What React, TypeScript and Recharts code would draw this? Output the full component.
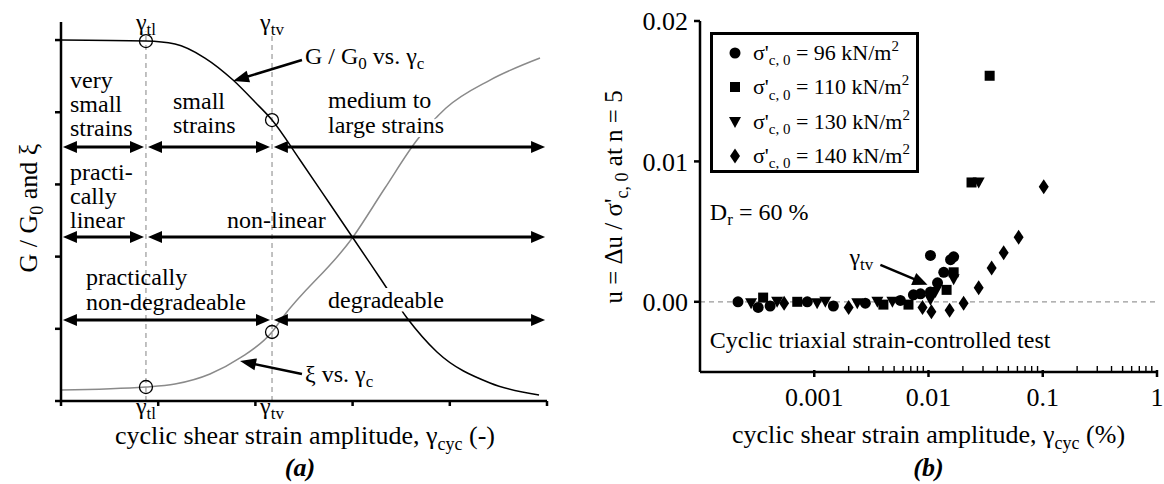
import React from "react";
import {
  ComposedChart,
  ScatterChart,
  Line,
  Scatter,
  XAxis,
  YAxis,
  ReferenceLine,
  ReferenceDot,
  Legend,
} from "recharts";

const SERIF = '"Liberation Serif", "Times New Roman", Times, serif';

// ---------- (a) schematic: one axis unit per tick ----------
const strainTicksA = [0, 1, 2, 3, 4, 5];
const levelTicksA = [0, 1, 2, 3, 4, 5];
const gammaTl = 0.874;
const gammaTv = 2.171;

const modulusCurve = [
  { x: 0, y: 5.0 },
  { x: 0.874, y: 4.986 },
  { x: 1.173, y: 4.945 },
  { x: 1.481, y: 4.751 },
  { x: 1.77, y: 4.446 },
  { x: 1.996, y: 4.141 },
  { x: 2.171, y: 3.892 },
  { x: 2.459, y: 3.338 },
  { x: 2.767, y: 2.729 },
  { x: 3.004, y: 2.258 },
  { x: 3.282, y: 1.704 },
  { x: 3.56, y: 1.15 },
  { x: 3.868, y: 0.679 },
  { x: 4.414, y: 0.249 },
  { x: 4.918, y: 0.083 },
];

const dampingCurve = [
  { x: 0, y: 0.152 },
  { x: 0.874, y: 0.194 },
  { x: 1.173, y: 0.235 },
  { x: 1.533, y: 0.374 },
  { x: 1.842, y: 0.596 },
  { x: 2.171, y: 0.956 },
  { x: 2.284, y: 1.163 },
  { x: 3.004, y: 2.271 },
  { x: 3.333, y: 2.95 },
  { x: 3.663, y: 3.615 },
  { x: 3.961, y: 4.058 },
  { x: 4.414, y: 4.446 },
  { x: 4.928, y: 4.751 },
];

// ---------- (b) pore pressure ratio vs. strain (%) ----------
const decadesB = [0.001, 0.01, 0.1, 1];
const minorStepsB = [2, 3, 4, 5, 6, 7, 8, 9];
const ticksUB = [0, 0.01, 0.02];
const stressLabels = ["96", "110", "130", "140"];

const pts96 = [
  { x: 0.000215, y: 0 },
  { x: 0.000323, y: -0.0004 },
  { x: 0.000411, y: -0.0003 },
  { x: 0.000869, y: 0 },
  { x: 0.00147, y: -0.0003 },
  { x: 0.0028, y: -0.0001 },
  { x: 0.00567, y: 0.0001 },
  { x: 0.00738, y: 0.0005 },
  { x: 0.00851, y: 0.00057 },
  { x: 0.0104, y: 0.0033 },
  { x: 0.0156, y: 0.003 },
  { x: 0.0166, y: 0.0032 },
  { x: 0.0136, y: 0.0021 },
  { x: 0.012, y: 0.00135 },
  { x: 0.0104, y: 0.0007 },
];

const pts110 = [
  { x: 0.000357, y: 0.0003 },
  { x: 0.00071, y: 0 },
  { x: 0.00403, y: -0.0002 },
  { x: 0.00668, y: -0.0002 },
  { x: 0.0166, y: 0.0021 },
  { x: 0.0144, y: 0.00085 },
  { x: 0.0238, y: 0.0085 },
  { x: 0.0343, y: 0.0161 },
];

const pts130 = [
  { x: 0.00028, y: -0.0001 },
  { x: 0.000473, y: 0 },
  { x: 0.00106, y: -0.0001 },
  { x: 0.00125, y: 0 },
  { x: 0.00238, y: -0.0001 },
  { x: 0.00357, y: 0 },
  { x: 0.00483, y: 0 },
  { x: 0.0166, y: 0.0016 },
  { x: 0.0115, y: 0.0007 },
  { x: 0.0104, y: 0.00014 },
  { x: 0.0275, y: 0.0085 },
];

const pts140 = [
  { x: 0.000545, y: -0.0001 },
  { x: 0.002, y: -0.0004 },
  { x: 0.00886, y: -0.0004 },
  { x: 0.0106, y: -0.0007 },
  { x: 0.0153, y: -0.0006 },
  { x: 0.0203, y: -0.0001 },
  { x: 0.0275, y: 0.001 },
  { x: 0.0357, y: 0.0024 },
  { x: 0.0455, y: 0.0035 },
  { x: 0.0615, y: 0.0046 },
  { x: 0.102, y: 0.0082 },
];

const ticksXB = decadesB.flatMap((d) => [d, ...(d < 1 ? minorStepsB.map((m) => d * m) : [])]);

// ---------- marks ----------
const circleMark = (p: any) => <circle cx={p.cx} cy={p.cy} r={5.5} fill="#000" />;
const squareMark = (p: any) => <rect x={p.cx - 5} y={p.cy - 5} width={10} height={10} fill="#000" />;
const triDownMark = (p: any) => (
  <path d={`M${p.cx - 6},${p.cy - 5}L${p.cx + 6},${p.cy - 5}L${p.cx},${p.cy + 6}Z`} fill="#000" />
);
const diamondMark = (p: any) => (
  <path d={`M${p.cx},${p.cy - 7.5}L${p.cx + 5},${p.cy}L${p.cx},${p.cy + 7.5}L${p.cx - 5},${p.cy}Z`} fill="#000" />
);
const markFns = [circleMark, squareMark, triDownMark, diamondMark];

// straight arrow, one or two filled heads
const arrowShape = (both: boolean, w: number, len: number, half: number) => (p: any) => {
  const { x1, y1, x2, y2 } = p;
  const L = Math.hypot(x2 - x1, y2 - y1) || 1;
  const ux = (x2 - x1) / L;
  const uy = (y2 - y1) / L;
  const nx = -uy;
  const ny = ux;
  const head = (tx: number, ty: number, dx: number, dy: number) =>
    `M${tx},${ty}L${tx - dx * len + nx * half},${ty - dy * len + ny * half}L${tx - dx * len - nx * half},${ty - dy * len - ny * half}Z`;
  return (
    <g>
      <line
        x1={both ? x1 + ux * len * 0.7 : x1}
        y1={both ? y1 + uy * len * 0.7 : y1}
        x2={x2 - ux * len * 0.7}
        y2={y2 - uy * len * 0.7}
        stroke="#000"
        strokeWidth={w}
      />
      <path d={head(x2, y2, ux, uy)} fill="#000" />
      {both && <path d={head(x1, y1, -ux, -uy)} fill="#000" />}
    </g>
  );
};

const arrow = (key: string, a: [number, number], b: [number, number], both = true, w = 3, len = 14, half = 6) => (
  <ReferenceLine
    key={key}
    segment={[{ x: a[0], y: a[1] }, { x: b[0], y: b[1] }]}
    ifOverflow="visible"
    shape={arrowShape(both, w, len, half)}
  />
);

type NoteOpts = { anchor?: string; size?: number; rotate?: boolean; halo?: boolean; weight?: string; italic?: boolean };

const note = (key: string, x: number, y: number, body: (cx: number) => React.ReactNode, o: NoteOpts = {}) => (
  <ReferenceDot
    key={key}
    x={x}
    y={y}
    r={0}
    ifOverflow="visible"
    shape={(p: any) => (
      <text
        x={p.cx}
        y={p.cy}
        textAnchor={o.anchor ?? "start"}
        fontSize={o.size ?? 24}
        fontFamily={SERIF}
        fontWeight={o.weight ?? "normal"}
        fontStyle={o.italic ? "italic" : "normal"}
        fill="#000"
        stroke={o.halo ? "#fff" : undefined}
        strokeWidth={o.halo ? 8 : undefined}
        paintOrder={o.halo ? "stroke" : undefined}
        transform={o.rotate ? `rotate(-90 ${p.cx} ${p.cy})` : undefined}
      >
        {body(p.cx)}
      </text>
    )}
  />
);

const stack = (words: string[], gap: number) => (cx: number) =>
  words.map((w, i) => (
    <tspan key={i} x={cx} dy={i === 0 ? 0 : gap}>
      {w}
    </tspan>
  ));

const plain = (s: string) => () => s;

const gammaSub = (sub: string) => () => (
  <>
    γ<tspan dy={5} fontSize={17}>{sub}</tspan>
  </>
);

const yAt = (curve: { x: number; y: number }[], x: number) => curve.find((p) => p.x === x)!.y;

const axisStyle = { stroke: "#000", strokeWidth: 2.5 };

function PanelA() {
  return (
    <ComposedChart width={560} height={484} margin={{ top: 22, right: 13, left: 41, bottom: 63 }}>
      <XAxis
        dataKey="x"
        type="number"
        domain={[0, 5]}
        ticks={strainTicksA}
        tickFormatter={() => ""}
        tickSize={5}
        axisLine={axisStyle}
        tickLine={axisStyle}
        height={20}
      />
      <YAxis
        type="number"
        domain={[0, 5.25]}
        ticks={levelTicksA}
        tickFormatter={() => ""}
        tickSize={6}
        axisLine={axisStyle}
        tickLine={axisStyle}
        width={20}
      />
      <ReferenceLine segment={[{ x: gammaTl, y: 0 }, { x: gammaTl, y: 5.12 }]} stroke="#999" strokeDasharray="5 4" strokeWidth={1.2} ifOverflow="visible" />
      <ReferenceLine segment={[{ x: gammaTv, y: 0 }, { x: gammaTv, y: 5.12 }]} stroke="#999" strokeDasharray="5 4" strokeWidth={1.2} ifOverflow="visible" />
      <Line data={dampingCurve} dataKey="y" type="monotone" dot={false} stroke="#8a8a8a" strokeWidth={1.5} isAnimationActive={false} />
      <Line data={modulusCurve} dataKey="y" type="monotone" dot={false} stroke="#000" strokeWidth={1.5} isAnimationActive={false} />

      {/* strain ranges */}
      {arrow("r1a", [0.02, 3.518], [0.854, 3.518])}
      {arrow("r1b", [0.895, 3.518], [2.15, 3.518])}
      {arrow("r1c", [2.19, 3.518], [4.98, 3.518])}
      {arrow("r2a", [0.02, 2.271], [0.854, 2.271])}
      {arrow("r2b", [0.895, 2.271], [4.98, 2.271])}
      {arrow("r3a", [0.02, 1.122], [2.15, 1.122])}
      {arrow("r3b", [2.19, 1.122], [4.98, 1.122])}

      {/* curve pointers */}
      {arrow("pG", [2.479, 4.723], [1.77, 4.432], false, 2.5, 16, 6)}
      {arrow("pX", [2.479, 0.374], [1.842, 0.554], false, 2.5, 16, 6)}

      {/* threshold circles */}
      {[gammaTl, gammaTv].map((g) => (
        <ReferenceDot key={`g${g}`} x={g} y={yAt(modulusCurve, g)} r={6.5} fill="none" stroke="#000" strokeWidth={1.3} ifOverflow="visible" />
      ))}
      {[gammaTl, gammaTv].map((g) => (
        <ReferenceDot key={`d${g}`} x={g} y={yAt(dampingCurve, g)} r={6.5} fill="none" stroke="#000" strokeWidth={1.3} ifOverflow="visible" />
      ))}

      {note("vs", 0.093, 4.335, stack(["very", "small", "strains"], 24))}
      {note("ss", 1.152, 4.045, stack(["small", "strains"], 24))}
      {note("ml", 2.747, 4.058, stack(["medium to", "large strains"], 25), { halo: true })}
      {note("pl", 0.093, 3.061, stack(["practi-", "cally", "linear"], 24))}
      {note("nl", 1.708, 2.396, plain("non-linear"))}
      {note("pn", 0.257, 1.607, stack(["practically", "non-degradeable"], 25))}
      {note("dg", 2.747, 1.288, plain("degradeable"), { halo: true })}
      {note("gl", 2.51, 4.668, () => (
        <>
          G / G<tspan dy={5} fontSize={17}>0</tspan>
          <tspan dy={-5}> vs. γ</tspan>
          <tspan dy={5} fontSize={17}>c</tspan>
        </>
      ))}
      {note("xl", 2.51, 0.263, () => (
        <>
          ξ vs. γ<tspan dy={5} fontSize={17}>c</tspan>
        </>
      ))}
      {note("t1", gammaTl, 5.139, gammaSub("tl"), { anchor: "middle" })}
      {note("t2", gammaTv, 5.139, gammaSub("tv"), { anchor: "middle" })}
      {note("b1", gammaTl, -0.18, gammaSub("tl"), { anchor: "middle" })}
      {note("b2", gammaTv, -0.18, gammaSub("tv"), { anchor: "middle" })}
      {note("xt", 2.51, -0.596, () => (
        <>
          cyclic shear strain amplitude, γ<tspan dy={6} fontSize={18}>cyc</tspan>
          <tspan dy={-6}> (-)</tspan>
        </>
      ), { anchor: "middle", size: 26 })}
      {note("yt", -0.247, 2.673, () => (
        <>
          G / G<tspan dy={6} fontSize={18}>0</tspan>
          <tspan dy={-6}> and ξ</tspan>
        </>
      ), { anchor: "middle", rotate: true, size: 26 })}
      {note("pa", 2.459, -1.039, plain("(a)"), { anchor: "middle", weight: "bold", italic: true, size: 26 })}
    </ComposedChart>
  );
}

const subStyle: React.CSSProperties = { fontSize: "0.68em", position: "relative", top: "0.35em" };
const supStyle: React.CSSProperties = { fontSize: "0.68em", position: "relative", top: "-0.6em" };

const StressLegend = () => (
  <div
    style={{
      position: "relative",
      width: 209,
      height: 141,
      boxSizing: "border-box",
      border: "3px solid #000",
      background: "#fff",
      fontFamily: SERIF,
      fontSize: 22,
      color: "#000",
    }}
  >
    {stressLabels.map((s, i) => (
      <div
        key={s}
        style={{
          position: "absolute",
          left: 0,
          top: 1 + i * 34.3,
          height: 34,
          width: "100%",
          display: "flex",
          alignItems: "center",
          whiteSpace: "nowrap",
        }}
      >
        <svg width={20} height={20} style={{ marginLeft: 12 }}>
          {markFns[i]({ cx: 10, cy: 10 })}
        </svg>
        <span style={{ marginLeft: 8 }}>
          σ'<span style={subStyle}>c, 0</span> = {s} kN/m<span style={supStyle}>2</span>
        </span>
      </div>
    ))}
  </div>
);

const isDecade = (v: number) => Math.abs(Math.log10(v) - Math.round(Math.log10(v))) < 1e-9;

const LogTick = (p: any) => {
  const v = p.payload.value;
  const major = isDecade(v);
  return (
    <g>
      <line
        x1={p.x}
        x2={p.x}
        y1={major ? p.y - 2 : p.y}
        y2={major ? p.y + 5 : p.y - 6}
        stroke="#000"
        strokeWidth={major ? 2.5 : 1.4}
      />
      {major && (
        <text x={p.x} y={p.y + 34} textAnchor="middle" fontSize={26} fontFamily={SERIF} fill="#000">
          {String(v)}
        </text>
      )}
    </g>
  );
};

function PanelB() {
  return (
    <ScatterChart width={604} height={484} margin={{ top: 21, right: 7, left: 80, bottom: 82 }}>
      <XAxis
        dataKey="x"
        type="number"
        scale="log"
        domain={[0.0001, 1]}
        allowDataOverflow
        ticks={ticksXB}
        interval={0}
        tick={<LogTick />}
        tickSize={0}
        tickMargin={0}
        tickLine={false}
        axisLine={axisStyle}
        height={30}
      />
      <YAxis
        dataKey="y"
        type="number"
        domain={[-0.005, 0.02]}
        ticks={ticksUB}
        tickFormatter={(v: number) => v.toFixed(2)}
        tick={{ fill: "#000", fontSize: 26, fontFamily: SERIF }}
        tickSize={6}
        tickMargin={6}
        axisLine={axisStyle}
        tickLine={axisStyle}
        width={60}
      />
      <ReferenceLine y={0} stroke="#999" strokeDasharray="5 4" strokeWidth={1.2} />
      <Scatter data={pts96} shape={circleMark} isAnimationActive={false} />
      <Scatter data={pts110} shape={squareMark} isAnimationActive={false} />
      <Scatter data={pts130} shape={triDownMark} isAnimationActive={false} />
      <Scatter data={pts140} shape={diamondMark} isAnimationActive={false} />

      {arrow("tv", [0.00379, 0.00263], [0.0098, 0.00121], false, 2.5, 15, 6.5)}
      {note("gtv", 0.00203, 0.00263, gammaSub("tv"))}
      {note("dr", 0.000122, 0.00584, () => (
        <>
          D<tspan dy={5} fontSize={17}>r</tspan>
          <tspan dy={-5}> = 60 %</tspan>
        </>
      ))}
      {note("ct", 0.000122, -0.00327, plain("Cyclic triaxial strain-controlled test"))}
      {note("xt", 0.01, -0.01004, () => (
        <>
          cyclic shear strain amplitude, γ<tspan dy={6} fontSize={18}>cyc</tspan>
          <tspan dy={-6}> (%)</tspan>
        </>
      ), { anchor: "middle", size: 26 })}
      {note("yt", 0.0000207, 0.00747, () => (
        <>
          u = Δu / σ'<tspan dy={6} fontSize={18}>c, 0</tspan>
          <tspan dy={-6}> at n = 5</tspan>
        </>
      ), { anchor: "middle", rotate: true, size: 25 })}
      {note("pb", 0.01, -0.01238, plain("(b)"), { anchor: "middle", weight: "bold", italic: true, size: 26 })}

      <Legend
        content={<StressLegend />}
        layout="vertical"
        align="center"
        verticalAlign="middle"
        wrapperStyle={{ left: 150, top: 32, width: 209, height: 141 }}
      />
    </ScatterChart>
  );
}

export default function App() {
  return (
    <div style={{ position: "absolute", left: 0, top: 0, width: 1164, height: 484, background: "#fff", overflow: "hidden" }}>
      <div style={{ position: "absolute", left: 0, top: 0 }}>
        <PanelA />
      </div>
      <div style={{ position: "absolute", left: 560, top: 0 }}>
        <PanelB />
      </div>
    </div>
  );
}
